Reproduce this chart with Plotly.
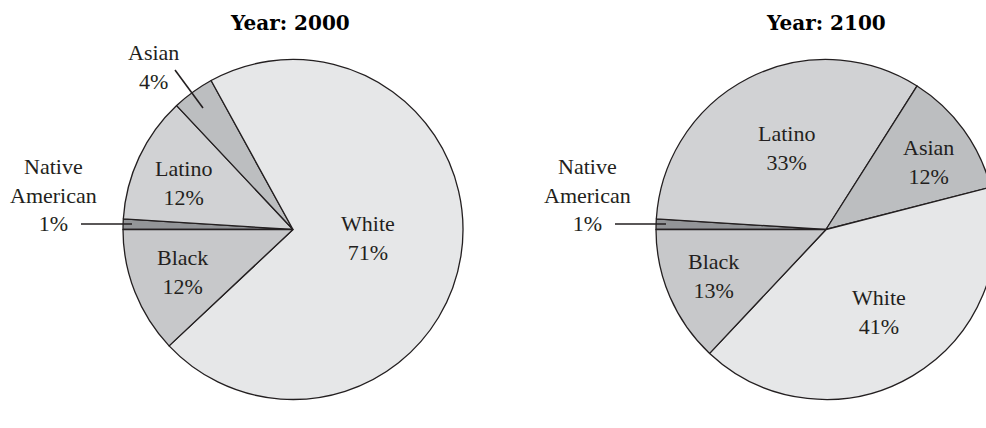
import plotly.graph_objects as go

# Population shares by group, listed clockwise from 9 o'clock
groups = ["Native American", "Latino", "Asian", "White", "Black"]
share_2000 = [1, 12, 4, 71, 12]
share_2100 = [1, 33, 12, 41, 13]
years = ["2000", "2100"]

slice_colors = ["#939598", "#d1d2d4", "#bcbec0", "#e6e7e8", "#c7c8ca"]
ink = "#231f20"

W, H = 1010, 428


def px(x):
    return x / W


def py(y):
    return 1 - y / H


fig = go.Figure()

pie_boxes = [(123, 463), (656, 996)]
for values, (x0, x1) in zip([share_2000, share_2100], pie_boxes):
    fig.add_trace(go.Pie(
        labels=groups,
        values=values,
        sort=False,
        direction="clockwise",
        rotation=270,
        textinfo="none",
        hoverinfo="label+percent",
        marker=dict(colors=slice_colors, line=dict(color=ink, width=1.3)),
        domain=dict(x=[px(x0), px(x1)], y=[py(399.5), py(59.5)]),
        showlegend=False,
    ))


def label(name, value):
    return f"{name.replace(' ', '<br>')}<br>{value}%"


# label centres (pixels) per group for each year
label_pos = [
    {"Black": (182, 272), "White": (368, 238), "Asian": (153, 67),
     "Latino": (183, 183), "Native American": (53, 195)},
    {"Black": (713, 276), "White": (879, 312), "Asian": (928, 162),
     "Latino": (786, 148), "Native American": (587, 195)},
]

annotations = []
for values, pos in zip([share_2000, share_2100], label_pos):
    for g, v in zip(groups, values):
        x, y = pos[g]
        annotations.append(dict(
            x=px(x), y=py(y), xref="paper", yref="paper",
            text=label(g, v), showarrow=False,
            xanchor="center", yanchor="middle", align="center",
            font=dict(family="Liberation Serif", size=22, color=ink),
        ))

for yr, cx in zip(years, [290, 826]):
    annotations.append(dict(
        x=px(cx), y=py(23), xref="paper", yref="paper",
        text=f"<b>Year: {yr}</b>", showarrow=False,
        xanchor="center", yanchor="middle",
        font=dict(family="DejaVu Serif", size=20, color="#000000"),
    ))

# leader lines for the small outside-labelled slices
leaders = [((175, 70), (203, 108)), ((81, 224), (132, 224)), ((615, 224), (666, 224))]
shapes = [
    dict(type="line", xref="paper", yref="paper",
         x0=px(a[0]), y0=py(a[1]), x1=px(b[0]), y1=py(b[1]),
         line=dict(color=ink, width=1.6))
    for a, b in leaders
]

fig.update_layout(
    width=W, height=H,
    margin=dict(l=0, r=0, t=0, b=0),
    paper_bgcolor="white", plot_bgcolor="white",
    annotations=annotations, shapes=shapes,
)

fig.write_html("out.html", post_script="document.body.style.overflow='hidden';")
